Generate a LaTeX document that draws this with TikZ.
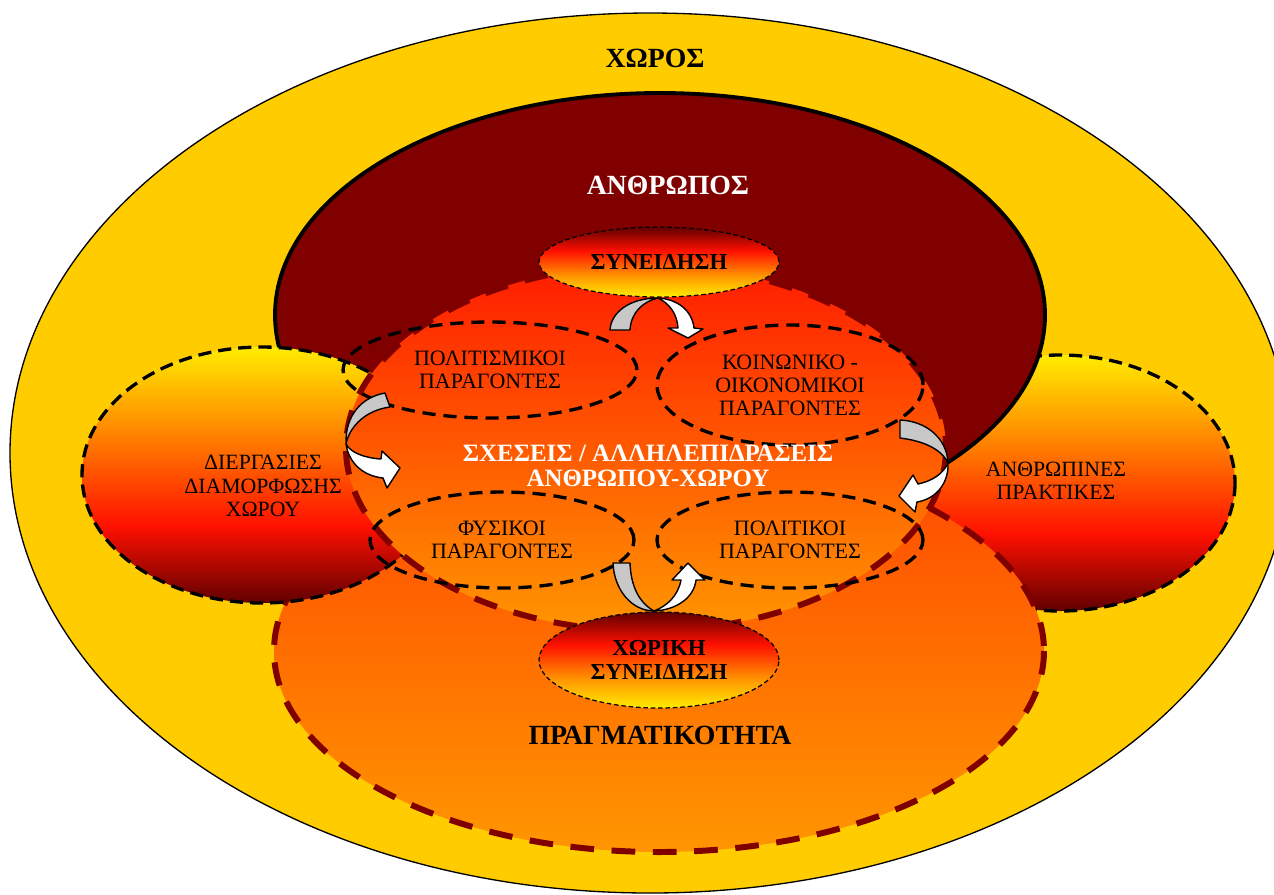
\documentclass[tikz,border=0pt]{standalone}
\usepackage{fontspec}
\setmainfont{Liberation Serif}
\usepackage{tikz}
\usetikzlibrary{shapes.geometric}
\usepackage{color}
\definecolor{chorosyellow}{RGB}{255, 204, 0}
\definecolor{anthropored}{RGB}{128, 0, 0}
\definecolor{fireyellow}{RGB}{255, 236, 0}
\definecolor{fireorange}{RGB}{255, 150, 0}
\definecolor{firered}{RGB}{255, 16, 0}
\definecolor{firedark}{RGB}{96, 0, 0}
\definecolor{relationtop}{RGB}{255, 28, 0}
\definecolor{relationmid}{RGB}{255, 105, 0}
\definecolor{relationbot}{RGB}{255, 150, 0}
\definecolor{realitytop}{RGB}{255, 70, 0}
\definecolor{realitybot}{RGB}{255, 150, 0}
\definecolor{arrowgray}{RGB}{200, 200, 200}
% dark on top, yellow below
\pgfdeclareverticalshading{awareness}{100bp}{color(0bp)=(fireyellow); color(25bp)=(fireyellow);
    color(40bp)=(fireorange); color(58bp)=(firered); color(75bp)=(firedark); color(100bp)=(firedark)}
% yellow on top, dark below
\pgfdeclareverticalshading{practice}{100bp}{color(0bp)=(firedark); color(25bp)=(firedark);
    color(40bp)=(firered); color(61bp)=(fireorange); color(75bp)=(fireyellow); color(100bp)=(fireyellow)}
\tikzset{
    factor/.style={ellipse, draw=black, line width=1.9pt, dash pattern=on 7.5pt off 4.5pt,
        inner sep=0pt, align=center, font=\fontsize{12.5}{13}\selectfont},
    aware/.style={ellipse, draw=black, line width=0.7pt, dash pattern=on 2.6pt off 1.6pt,
        shade, shading=awareness, inner sep=0pt, align=center, font=\bfseries\fontsize{13}{13.2}\selectfont},
    plain label/.style={align=center, font=\fontsize{12.4}{13.4}\selectfont},
    bold label/.style={align=center, font=\bfseries\fontsize{15.8}{18}\selectfont},
    twist back/.style={fill=arrowgray, draw=black, line width=0.8pt, line join=round},
    twist front/.style={fill=white, draw=black, line width=0.8pt, line join=round},
}

\begin{document}
\begin{tikzpicture}[x=0.02cm, y=-0.02cm]
            \useasboundingbox (0, 0) rectangle (1274, 894);
            \clip (0, 0) rectangle (1274, 894);
            % Space
            \path[fill=chorosyellow, draw=black, line width=0.75pt] (650, 453) ellipse [x radius=640, y radius=440];
            % Human practices (below the human)
            \path[shade, shading=practice, draw=black, line width=1.9pt, dash pattern=on 7.5pt off 4pt]
                 (1060, 483) ellipse [x radius=175, y radius=128];
            % Human
            \path[fill=anthropored, draw=black, line width=2.2pt] (660, 315) ellipse [x radius=385, y radius=222];
            % Reality
            \path[top color=realitytop, bottom color=realitybot, draw=anthropored, line width=3.4pt,
                 dash pattern=on 13.5pt off 10pt] (659, 651) ellipse [x radius=385, y radius=201];
            % Processes shaping space
            \path[shade, shading=practice, draw=black, line width=1.9pt, dash pattern=on 7.5pt off 4pt]
                 (262, 475) ellipse [x radius=180, y radius=128];
            % Relations
            \path[top color=relationtop, middle color=relationmid, bottom color=relationbot, draw=anthropored,
                 line width=3.4pt, dash pattern=on 13.5pt off 10pt] (646, 448) ellipse [x radius=300, y radius=183];
            % Consciousness
            \node[aware, minimum width=4.8cm, minimum height=1.4cm]  (consc)  at (659, 262) {ΣΥΝΕΙΔΗΣΗ};
            \node[aware, minimum width=4.8cm, minimum height=1.92cm] (sconsc) at (659, 660) {ΧΩΡΙΚΗ\\ΣΥΝΕΙΔΗΣΗ};
            % Factors
            \node[factor, minimum width=5.88cm, minimum height=1.92cm] (cultural) at (490, 370) {ΠΟΛΙΤΙΣΜΙΚΟΙ\\ΠΑΡΑΓΟΝΤΕΣ};
            \node[factor, minimum width=5.32cm, minimum height=2.40cm] (social)   at (790, 385) {ΚΟΙΝΩΝΙΚΟ -\\ΟΙΚΟΝΟΜΙΚΟΙ\\ΠΑΡΑΓΟΝΤΕΣ};
            \node[factor, minimum width=5.28cm, minimum height=1.92cm] (physical) at (502, 540) {ΦΥΣΙΚΟΙ\\ΠΑΡΑΓΟΝΤΕΣ};
            \node[factor, minimum width=5.32cm, minimum height=1.92cm] (political) at (790, 540) {ΠΟΛΙΤΙΚΟΙ\\ΠΑΡΑΓΟΝΤΕΣ};
            % Twisted arrows: top
            \draw[twist back]  (610, 330) .. controls (611, 312) and (630, 298) .. (658, 298)
                               .. controls (642, 302) and (631, 313) .. (630, 330) -- cycle;
            \draw[twist front] (658, 298) .. controls (677, 299) and (692, 310) .. (694, 328) -- (703, 329) -- (688, 338)
                               -- (668, 328) -- (678, 328) .. controls (677, 314) and (670, 304) .. (658, 298) -- cycle;
            % Twisted arrows: left
            \draw[twist back]  (385, 393) .. controls (362, 397) and (345, 415) .. (346, 444)
                               .. controls (350, 425) and (367, 410) .. (390, 407) -- cycle;
            \draw[twist front] (346, 444) .. controls (349, 464) and (364, 476) .. (383, 478) -- (387, 488) -- (400, 468)
                               -- (382, 451) -- (381, 459) .. controls (365, 458) and (351, 453) .. (346, 444) -- cycle;
            % Twisted arrows: right
            \draw[twist back]  (900, 420) .. controls (926, 421) and (947, 438) .. (948, 463)
                               .. controls (942, 450) and (925, 441) .. (900, 438) -- cycle;
            \draw[twist front] (948, 463) .. controls (949, 483) and (936, 499) .. (917, 502) -- (915, 512) -- (899, 496)
                               -- (913, 475) -- (918, 484) .. controls (932, 481) and (943, 474) .. (948, 463) -- cycle;
            % Twisted arrows: bottom
            \draw[twist back]  (613, 563) .. controls (614, 590) and (632, 611) .. (654, 611)
                               .. controls (640, 603) and (631, 588) .. (630, 563) -- cycle;
            \draw[twist front] (654, 611) .. controls (676, 610) and (694, 598) .. (696, 580) -- (705, 580) -- (688, 563)
                               -- (672, 580) -- (681, 580) .. controls (678, 596) and (667, 606) .. (654, 611) -- cycle;
            % Labels
            \node[bold label]                  (choros)    at (655, 58)  {ΧΩΡΟΣ};
            \node[bold label, text=white]      (anthropos) at (668, 185) {ΑΝΘΡΩΠΟΣ};
            \node[bold label, text=white, font=\bfseries\fontsize{14.2}{14.4}\selectfont]
                                               (relations) at (648, 466) {ΣΧΕΣΕΙΣ / ΑΛΛΗΛΕΠΙΔΡΑΣΕΙΣ\\ΑΝΘΡΩΠΟΥ-ΧΩΡΟΥ};
            \node[bold label]                  (reality)   at (660, 735) {ΠΡΑΓΜΑΤΙΚΟΤΗΤΑ};
            \node[plain label]                 (shaping)   at (263, 486) {ΔΙΕΡΓΑΣΙΕΣ\\ΔΙΑΜΟΡΦΩΣΗΣ\\ΧΩΡΟΥ};
            \node[plain label]                 (practices) at (1056, 481) {ΑΝΘΡΩΠΙΝΕΣ\\ΠΡΑΚΤΙΚΕΣ};
\end{tikzpicture}
\end{document}
